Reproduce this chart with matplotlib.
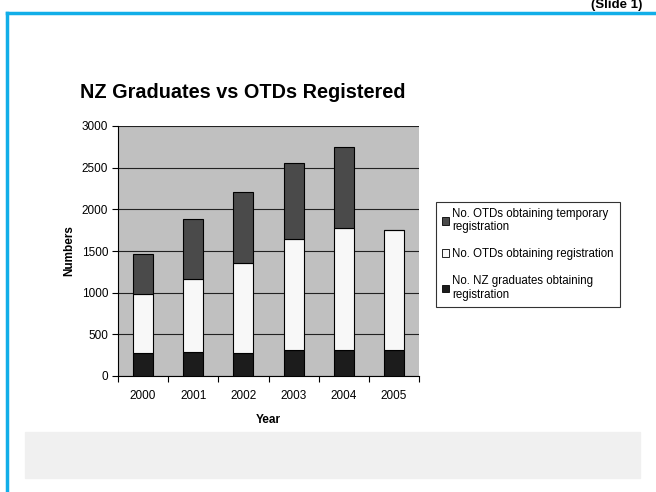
import numpy as np
import matplotlib.pyplot as plt
from matplotlib.patches import Rectangle, Patch
from matplotlib.lines import Line2D

plt.rcParams['font.family'] = ['Liberation Sans', 'DejaVu Sans']

years = ['2000', '2001', '2002', '2003', '2004', '2005']
nz_grads = [280, 292, 280, 312, 312, 312]
otd_reg = [700, 878, 1082, 1338, 1466, 1438]
otd_temp = [479, 719, 847, 911, 970, 0]

labels = ['No. NZ graduates obtaining\nregistration',
          'No. OTDs obtaining registration',
          'No. OTDs obtaining temporary\nregistration']
colors = ['#1c1c1c', '#f8f8f8', '#4a4a4a']

W, H = 656, 492
fig = plt.figure(figsize=(W / 100, H / 100), dpi=100)

# faint slide background band
fig.patches.append(Rectangle((25 / W, 1 - 478 / H), 615 / W, 46 / H,
                             transform=fig.transFigure, color='#f0f0f0', zorder=0))

# slide border
fig.add_artist(Line2D([7 / W, 7 / W], [0, 1 - 13 / H], transform=fig.transFigure,
                      color='#12aee8', lw=2.5))
fig.add_artist(Line2D([7 / W, 1], [1 - 13 / H, 1 - 13 / H], transform=fig.transFigure,
                      color='#12aee8', lw=2.5))
fig.text(642 / W, 1 - 5 / H, '(Slide 1)', ha='right', va='center',
         fontsize=9.5, fontweight='bold')

ax = fig.add_axes([118 / W, 1 - 376 / H, 301 / W, 250 / H])
ax.set_facecolor('#c0c0c0')

x = np.arange(len(years))
bottom = np.zeros(len(years))
for vals, c in zip([nz_grads, otd_reg, otd_temp], colors):
    ax.bar(x, vals, 0.4, bottom=bottom, color=c, edgecolor='black', linewidth=0.8, zorder=3)
    bottom += np.array(vals)

ax.set_xlim(-0.5, len(years) - 0.5)
ax.set_ylim(0, 3000)
ax.set_yticks(np.arange(0, 3001, 500))
ax.yaxis.grid(True, color='#222222', lw=0.8, zorder=1)
ax.tick_params(axis='y', labelsize=8.5, length=4, direction='out', pad=3)

ax.set_xticks(np.arange(-0.5, len(years), 1))
ax.set_xticklabels([])
ax.set_xticks(x, minor=True)
ax.set_xticklabels(years, minor=True)
ax.tick_params(axis='x', which='major', length=4, direction='out')
ax.tick_params(axis='x', which='minor', length=0, labelsize=8.5, pad=10)

for s in ['top', 'right']:
    ax.spines[s].set_visible(False)

ax.set_xlabel('Year', fontsize=8.5, fontweight='bold', labelpad=9)
ax.set_ylabel('Numbers', fontsize=8.5, fontweight='bold', labelpad=5)

fig.text(80 / W, 1 - 92 / H, 'NZ Graduates vs OTDs Registered', fontsize=14.3,
         fontweight='bold', va='center')

handles = [Patch(facecolor=c, edgecolor='black', lw=0.6) for c in colors][::-1]
leg = fig.legend(handles, labels[::-1], loc='upper left',
                 bbox_to_anchor=(430 / W, 1 - 196 / H), fontsize=8.3,
                 frameon=True, fancybox=False, edgecolor='black',
                 handlelength=0.65, handleheight=0.65, handletextpad=0.3,
                 labelspacing=1.3, borderpad=0.5)
leg.get_frame().set_linewidth(0.8)

fig.savefig('out.png', dpi=100, facecolor='white')
